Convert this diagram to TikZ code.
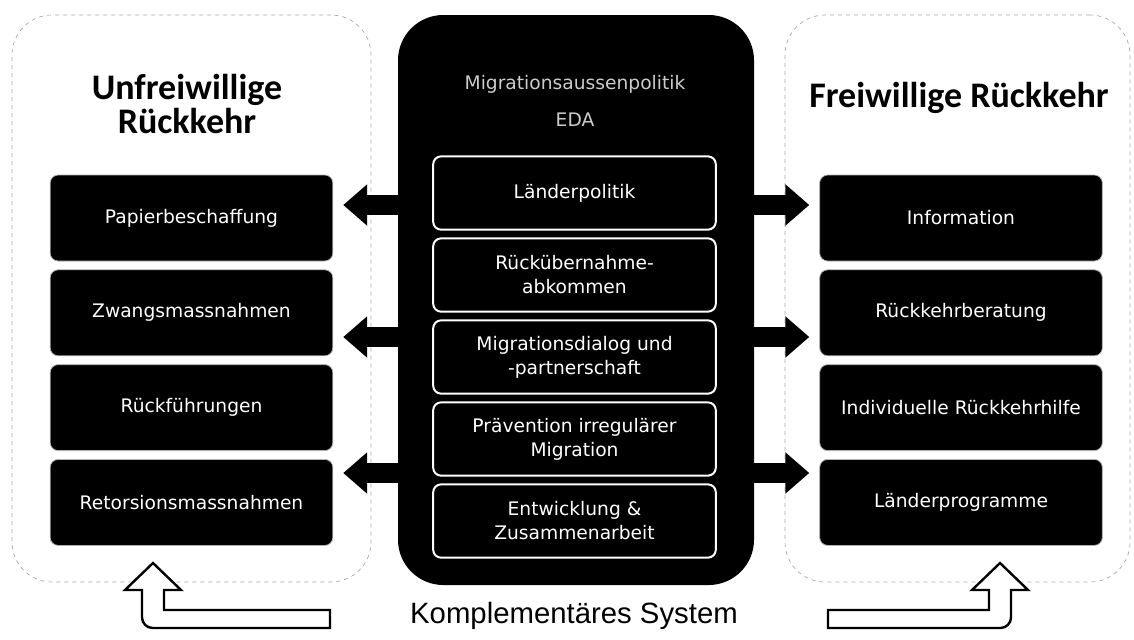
\documentclass[tikz,border=0pt]{standalone}
\usepackage{fontspec}
\setmainfont{DejaVu Sans}
\newfontfamily\headfont{Carlito}
\newfontfamily\arialfont{Liberation Sans}
\usetikzlibrary{positioning, arrows.meta}
\tikzset{
  frame/.style={
    draw=gray!70,
    dashed,
    rectangle,
    rounded corners=30pt,
    line width=0.5pt
  },
  sidebox/.style={
    draw=gray!60,
    line width=0.6pt,
    rectangle,
    rounded corners=6pt,
    fill=black,
    text=white,
    minimum width=212pt,
    minimum height=64.5pt,
    align=center,
    font=\fontsize{14}{18}\selectfont
  },
  midbox/.style={
    draw=white,
    line width=1.5pt,
    rectangle,
    rounded corners=6pt,
    fill=black,
    text=white,
    minimum width=212pt,
    minimum height=55pt,
    align=center,
    font=\fontsize{14}{18}\selectfont
  },
  heading/.style={
    font=\headfont\bfseries\fontsize{27}{26}\selectfont,
    align=center
  },
  blockarrow/.style={
    line width=15pt,
    -{Triangle[length=18pt, width=30pt]},
    shorten >=7.5pt
  },
  uturn/.style={
    draw=black,
    line width=1.8pt,
    fill=white,
    line join=miter
  }
}
\begin{document}
\begin{tikzpicture}[x=0.75pt, y=-0.75pt]
        \useasboundingbox (0,0) rectangle (1134,639);
        % rahmen
        \node[frame, minimum width=269.25pt, minimum height=425.25pt] (links) at (191.5,298.5) {};
        \node[frame, minimum width=258.75pt, minimum height=425.25pt] (rechts) at (957.5,298.5) {};
        \node[fill=black, rounded corners=34pt, minimum width=267pt, minimum height=427.5pt] (mitte) at (576,300) {};
        
        \node[heading] (unfrei) at (187,104) {Unfreiwillige\\Rückkehr};
        \node[heading] (frei) at (959,98) {Freiwillige Rückkehr};
        \node[align=center, text=gray!40, font=\fontsize{14}{28}\selectfont] (titel) at (575,101) {Migrationsaussenpolitik\\EDA};
        
        \node[midbox] (laender) at (574.5,193) {Länderpolitik};
        \node[midbox, below=5pt of laender] (rueck) {Rückübernahme-\\abkommen};
        \node[midbox, below=5pt of rueck] (dialog) {Migrationsdialog und\\-partnerschaft};
        \node[midbox, below=5pt of dialog] (praev) {Prävention irregulärer\\Migration};
        \node[midbox, below=5pt of praev] (entw) {Entwicklung \&\\Zusammenarbeit};
        
        \node[sidebox] (papier) at (191.5,218) {Papierbeschaffung};
        \node[sidebox, below=6pt of papier] (zwang) {Zwangsmassnahmen};
        \node[sidebox, below=6pt of zwang] (rueckf) {Rückführungen};
        \node[sidebox, below=6pt of rueckf] (retors) {Retorsionsmassnahmen};
        
        \node[sidebox] (info) at (961,218) {Information};
        \node[sidebox, below=6pt of info] (beratung) {Rückkehrberatung};
        \node[sidebox, below=6pt of beratung] (hilfe) {Individuelle Rückkehrhilfe};
        \node[sidebox, below=6pt of hilfe] (programme) {Länderprogramme};
        
        \draw[blockarrow] (mitte.west |- 0,205) -- (papier.east |- 0,205);
        \draw[blockarrow] (mitte.west |- 0,337) -- (zwang.east |- 0,337);
        \draw[blockarrow] (mitte.west |- 0,473) -- (retors.east |- 0,473);
        \draw[blockarrow] (mitte.east |- 0,205) -- (info.west |- 0,205);
        \draw[blockarrow] (mitte.east |- 0,337) -- (beratung.west |- 0,337);
        \draw[blockarrow] (mitte.east |- 0,473) -- (programme.west |- 0,473);
        
        \node[font=\arialfont\fontsize{22}{24}\selectfont] (kompl) at (574,616) {Komplementäres System};
        
        % u-pfeile
        \draw[uturn] (153,563) -- (181,590) -- (164,590) -- (164,610) -- (330,610) -- (330,628)
          [rounded corners=8pt] -- (142,628) [sharp corners] -- (142,590) -- (125,590) -- cycle;
        \draw[uturn] (1000,563) -- (972,590) -- (989,590) -- (989,610) -- (828,610) -- (828,628)
          [rounded corners=8pt] -- (1011,628) [sharp corners] -- (1011,590) -- (1028,590) -- cycle;
      \end{tikzpicture}
\end{document}
